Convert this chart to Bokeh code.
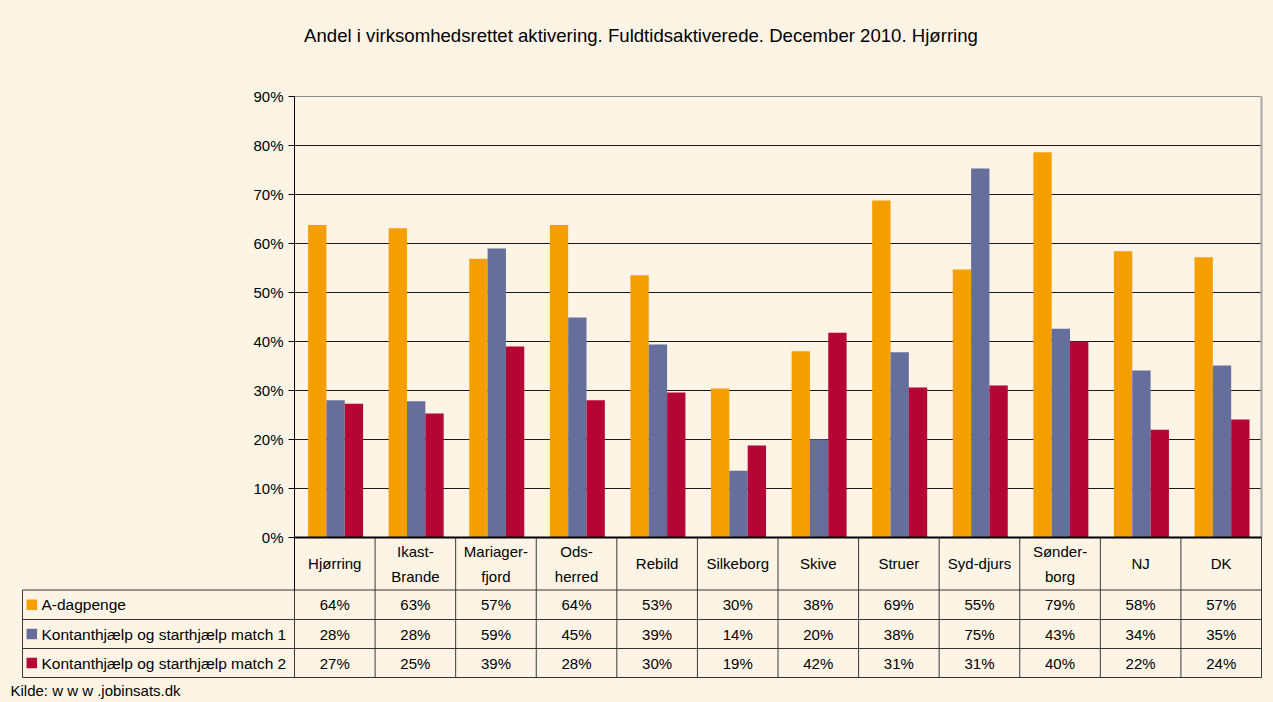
import numpy as np
from bokeh.plotting import figure
from bokeh.models import Range1d, FixedTicker
from bokeh.core.properties import value
from bokeh.embed import file_html
from bokeh.resources import INLINE

# ---------------- data ----------------
title_text = "Andel i virksomhedsrettet aktivering. Fuldtidsaktiverede. December 2010. Hjørring"
categories = ["Hjørring", "Ikast-\nBrande", "Mariager-\nfjord", "Ods-\nherred", "Rebild",
              "Silkeborg", "Skive", "Struer", "Syd-djurs", "Sønder-\nborg", "NJ", "DK"]
series_names = ["A-dagpenge",
                "Kontanthjælp og starthjælp match 1",
                "Kontanthjælp og starthjælp match 2"]
a_dagpenge = [63.8, 63.1, 56.9, 63.8, 53.5, 30.4, 38.0, 68.8, 54.7, 78.6, 58.4, 57.2]
match1 = [28.0, 27.8, 59.0, 44.9, 39.4, 13.6, 20.0, 37.8, 75.3, 42.6, 34.1, 35.1]
match2 = [27.3, 25.3, 39.0, 28.0, 29.6, 18.8, 41.8, 30.6, 31.0, 40.0, 22.0, 24.1]
a_labels = ["64%", "63%", "57%", "64%", "53%", "30%", "38%", "69%", "55%", "79%", "58%", "57%"]
m1_labels = ["28%", "28%", "59%", "45%", "39%", "14%", "20%", "38%", "75%", "43%", "34%", "35%"]
m2_labels = ["27%", "25%", "39%", "28%", "30%", "19%", "42%", "31%", "31%", "40%", "22%", "24%"]
y_ticks = [0, 10, 20, 30, 40, 50, 60, 70, 80, 90]
y_tick_labels = ["0%", "10%", "20%", "30%", "40%", "50%", "60%", "70%", "80%", "90%"]
source_text = "Kilde: w w w .jobinsats.dk"

# ---------------- style / geometry ----------------
BG = "#FDF4E6"
COLORS = ["#F59E00", "#666E9C", "#B40535"]
FONT = value("Liberation Sans")
W, H = 1273, 702
n = len(categories)

PX_L, PX_R, PX_TOP, PX_ZERO = 294, 1261, 96, 537
ppu = (PX_R - PX_L) / n               # px per category
ppy = (PX_ZERO - PX_TOP) / 90.0       # px per percent


def px_to_x(px):
    return (px - PX_L) / ppu - 0.5


def py_to_y(py):
    return (PX_ZERO - py) / ppy


p = figure(width=W, height=H,
           x_range=Range1d(px_to_x(0), px_to_x(W)), y_range=Range1d(py_to_y(H), py_to_y(0)),
           min_border=0, min_border_left=0, min_border_right=0, min_border_top=0, min_border_bottom=0,
           x_axis_location=None, toolbar_location=None, output_backend="svg",
           background_fill_color=BG, border_fill_color=BG, outline_line_color=None)
p.grid.visible = False

x = np.arange(n)
x_lo, x_hi = -0.5, n - 0.5
y_hdr = py_to_y(589.5)          # bottom of category header row
row_edges = [py_to_y(v) for v in (589.5, 619, 648, 677)]
row_mid = [(row_edges[i] + row_edges[i + 1]) / 2 for i in range(3)]
x_tab_left = px_to_x(22)

# y axis, drawn at the left edge of the plot area
yax = p.yaxis[0]
yax.fixed_location = x_lo
yax.bounds = (y_hdr, 90)
yax.ticker = FixedTicker(ticks=y_ticks)
yax.major_label_overrides = {t: l for t, l in zip(y_ticks, y_tick_labels)}
yax.minor_tick_line_color = None
yax.major_tick_in = 0
yax.major_tick_out = 6
yax.axis_line_color = "black"
yax.major_tick_line_color = "black"
yax.major_label_text_font = "Liberation Sans"
yax.major_label_text_font_size = "15px"
yax.major_label_text_color = "black"
yax.major_label_standoff = 5

# horizontal grid lines
gt = y_ticks[1:-1]
p.segment(x0=[x_lo] * len(gt), y0=gt, x1=[x_hi] * len(gt), y1=gt, line_color="#1a1a1a", line_width=1)
p.segment(x0=[x_lo], y0=[y_ticks[-1]], x1=[x_hi], y1=[y_ticks[-1]], line_color="#8C8C8C", line_width=1)

# bars
bw = 0.2275
offsets = [-0.2175, 0.01, 0.2375]
for vals, off, col in zip([a_dagpenge, match1, match2], offsets, COLORS):
    p.vbar(x=x + off, top=vals, width=bw, fill_color=col, line_color=None)

# right border of plot area
p.segment(x0=[x_hi], y0=[0], x1=[x_hi], y1=[90], line_color="#A6A6A6", line_width=2)

# table lines
sep_x = [k - 0.5 for k in range(1, n + 1)]
p.segment(x0=sep_x, y0=[row_edges[-1]] * n, x1=sep_x, y1=[0] * n, line_color="#3a3a3a", line_width=1)
p.segment(x0=[x_lo, x_tab_left], y0=[row_edges[-1]] * 2, x1=[x_lo, x_tab_left], y1=[y_hdr, y_hdr],
          line_color="#3a3a3a", line_width=1)
p.segment(x0=[x_tab_left] * 4, y0=row_edges, x1=[x_hi] * 4, y1=row_edges, line_color="#333333", line_width=1)
# zero line
p.segment(x0=[x_lo], y0=[0], x1=[x_hi], y1=[0], line_color="black", line_width=2)

# category header
p.text(x=x, y=[(0 + y_hdr) / 2] * n, text=categories, text_align="center",
       text_baseline="middle", text_font=FONT, text_font_size="15px",
       text_color="black", text_line_height=1.45)

# legend column
p.scatter(x=[px_to_x(31.3)] * 3, y=row_mid, marker="square", size=10.5,
          fill_color=COLORS, line_color=None)
p.text(x=[px_to_x(41)] * 3, y=row_mid, text=series_names, text_align="left",
       text_baseline="middle", text_font=FONT, text_font_size="15.5px", text_color="black")
for labels, ry in zip([a_labels, m1_labels, m2_labels], row_mid):
    p.text(x=x, y=[ry] * n, text=labels, text_align="center", text_baseline="middle",
           text_font=FONT, text_font_size="15px", text_color="black")

# title and source
p.text(x=[px_to_x(640.5)], y=[py_to_y(35)], text=[title_text], text_align="center",
       text_baseline="middle", text_font=FONT, text_font_size="18.6px", text_color="black")
p.text(x=[px_to_x(10)], y=[py_to_y(690)], text=[source_text], text_align="left",
       text_baseline="middle", text_font=FONT, text_font_size="15px", text_color="black")

template = """
{% block postamble %}
<style>html, body { background: #FDF4E6; }</style>
{% endblock %}
"""
open("out.html", "w").write(file_html(p, INLINE, "chart", template=template))
